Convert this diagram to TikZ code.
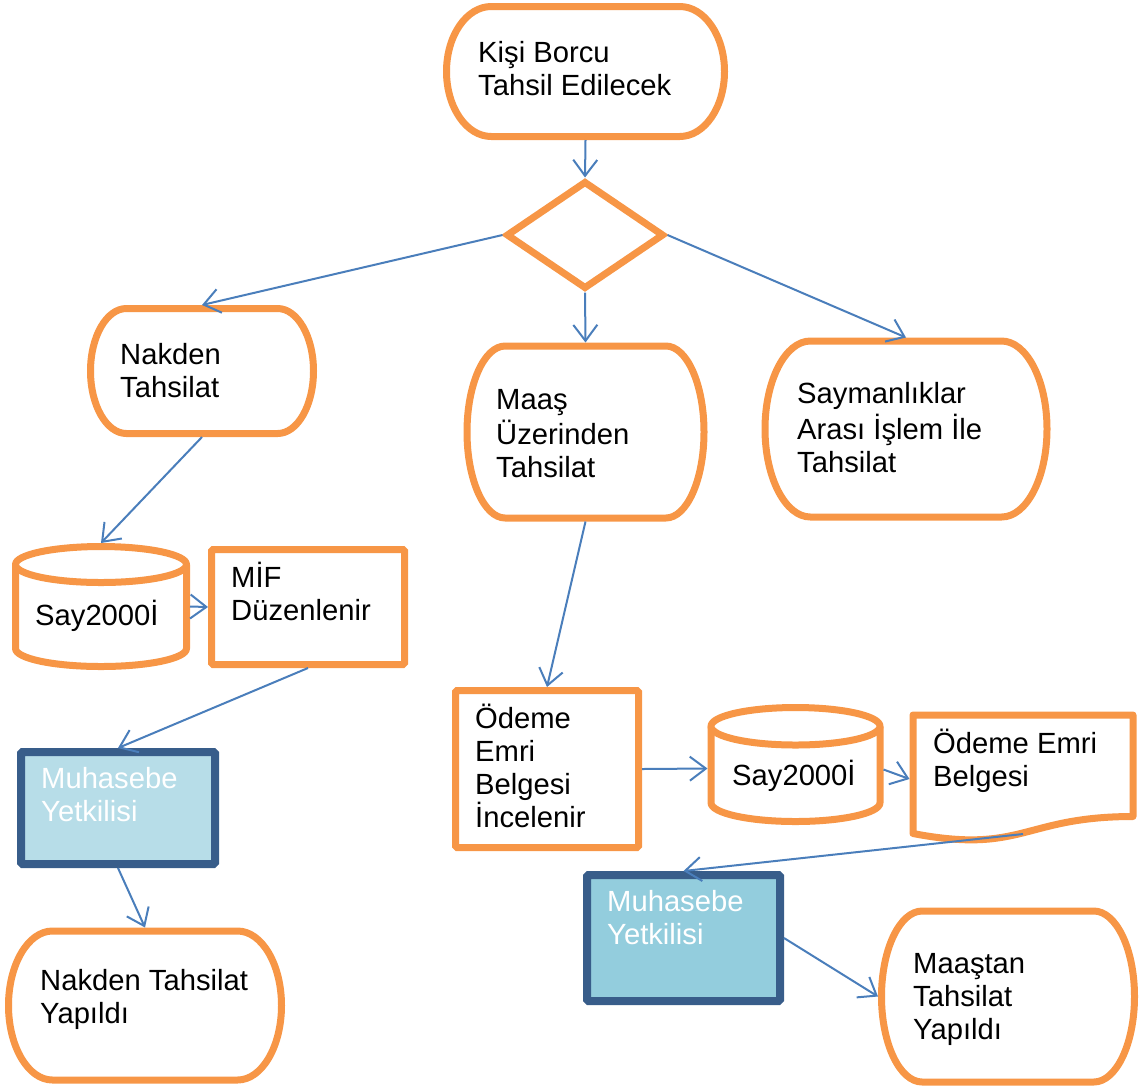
\documentclass[tikz,border=0pt]{standalone}
\usepackage{fontspec}
\setmainfont{Liberation Sans}
\usetikzlibrary{arrows.meta,shapes.geometric,fit}
\definecolor{orng}{HTML}{F79646}
\definecolor{conncol}{HTML}{4A7EBB}
\definecolor{dkblue}{HTML}{385D8A}
\definecolor{lbA}{HTML}{B7DDE8}
\definecolor{lbB}{HTML}{93CDDD}
\tikzset{
  orngline/.style={draw=orng, line width=7pt, fill=white, line join=round},
  anchorbox/.style={rectangle, draw=none, inner sep=0pt, outer sep=3.5pt},
  rectbox/.style={rectangle, draw=orng, line width=7pt, fill=white, inner sep=0pt, rounded corners=1.5pt},
  actorbox/.style={rectangle, draw=dkblue, line width=8pt, inner sep=0pt, rounded corners=1.5pt},
  connector/.style={draw=conncol, line width=2pt, -{Straight Barb[length=16pt,width=24pt]}},
  txt/.style={font=\fontsize{29.2}{33}\selectfont, align=left, inner sep=0pt, anchor=north west},
}
\newcommand\termshape[5]{%
  \node[anchorbox, fit={(#2,#3)(#4,#5)}] (#1) {};
  \pgfmathsetmacro\trx{0.161*(#4-#2)}%
  \pgfmathsetmacro\try{(#5-#3)/2}%
  \draw[orngline] ({#2+\trx},#3) -- ({#4-\trx},#3)
     arc[start angle=90,end angle=-90,x radius=\trx pt,y radius=\try pt]
     -- ({#2+\trx},#5)
     arc[start angle=270,end angle=90,x radius=\trx pt,y radius=\try pt] -- cycle;
}
\newcommand\cylshape[6]{%
  \node[anchorbox, fit={(#2,#3)(#4,#5)}] (#1) {};
  \pgfmathsetmacro\crx{(#4-#2)/2}%
  \pgfmathsetmacro\cxm{(#4+#2)/2}%
  \draw[orngline] (#2,{#3+#6}) -- (#2,{#5-#6})
     arc[start angle=180,end angle=360,x radius=\crx pt,y radius=#6pt] -- (#4,{#3+#6});
  \draw[orngline] (\cxm,{#3+#6}) ellipse[x radius=\crx pt,y radius=#6pt];
}
\newcommand\tx[4]{\node[txt] (#1) at (#2,{#3-23.1}) {\strut #4};}
\begin{document}
\begin{tikzpicture}[x=1pt,y=-1pt]
\useasboundingbox (0,0) rectangle (1139,1088);
% shapes
\termshape{t1}{446.5}{6.5}{724.5}{136.5}
\node[diamond, draw=orng, line width=7pt, fill=white, inner sep=0pt,
      minimum width=158pt, minimum height=108pt] (d) at (585,235) {};
\termshape{nak}{90.5}{308.5}{313.5}{433.5}
\termshape{maas}{467}{346}{704}{518}
\termshape{say}{765}{341}{1047}{517}
\cylshape{cylA}{15.5}{546.5}{186.5}{666.5}{18}
\node[rectbox, minimum width=193pt, minimum height=115pt] (mif) at (308,607) {};
\node[actorbox, fill=lbA, minimum width=194pt, minimum height=112pt] (muhA) at (118,808) {};
\termshape{nty}{8.5}{931}{281.5}{1080}
\node[rectbox, minimum width=183pt, minimum height=157pt] (ode) at (547,769) {};
\cylshape{cylB}{711}{707.5}{880}{821.5}{18.75}
% document shape
\node[anchorbox, fit={(913,715)(1133,843)}] (doc) {};
\draw[orngline] (913,715) -- (1133,715) -- (1133,816.5)
   .. controls (1023,816.5) and (1023,854.5) .. (913,833.5) -- cycle;
\coordinate (docb) at (1023,834);
\node[actorbox, fill=lbB, minimum width=193pt, minimum height=126pt] (muhB) at (683.5,938) {};
\termshape{myt}{881.5}{911}{1134.5}{1082}
% texts
\tx{t1txt}{478}{62}{Kişi Borcu\\Tahsil Edilecek}
\tx{naktxt}{120}{364}{Nakden\\Tahsilat}
\tx{maastxt}{496}{409}{Maaş\\Üzerinden\\Tahsilat}
\tx{saytxt}{797}{403}{Saymanlıklar\\Arası İşlem İle\\Tahsilat}
\tx{cylAtxt}{35}{623}{Say2000İ}
\tx{miftxt}{231}{585}{MİF\\Düzenlenir}
\node[txt, text=white] (muhAtxt) at (41,{788-23.1}) {\strut Muhasebe\\Yetkilisi};
\tx{ntytxt}{40}{990}{Nakden Tahsilat\\Yapıldı}
\tx{odetxt}{475}{727}{Ödeme\\Emri\\Belgesi\\İncelenir}
\tx{cylBtxt}{732}{783}{Say2000İ}
\tx{doctxt}{933}{752}{Ödeme Emri\\Belgesi}
\node[txt, text=white] (muhBtxt) at (607,{911-23.1}) {\strut Muhasebe\\Yetkilisi};
\tx{myttxt}{913}{973}{Maaştan\\Tahsilat\\Yapıldı}
% connectors
\draw[connector] (t1.south) -- (d.north);
\draw[connector] (d.west) -- (nak.north);
\draw[connector] (d.south) -- (maas.north);
\draw[connector] (d.east) -- (say.north);
\draw[connector] (nak.south) -- (cylA.north);
\draw[connector] (cylA.east) -- (mif.west);
\draw[connector] (mif.south) -- (muhA.north);
\draw[connector] (muhA.south) -- (nty.north);
\draw[connector] (maas.south) -- (ode.north);
\draw[connector] (ode.east) -- ([yshift=-4pt]cylB.west);
\draw[connector] ([yshift=-5pt]cylB.east) -- (doc.west);
\draw[connector] (docb) -- (muhB.north);
\draw[connector] (muhB.east) -- (myt.west);
\end{tikzpicture}
\end{document}
